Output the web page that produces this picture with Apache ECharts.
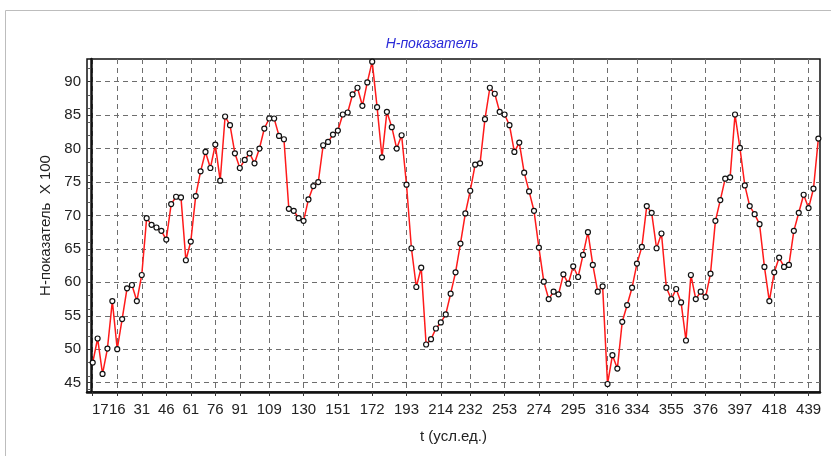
<!DOCTYPE html>
<html>
<head>
<meta charset="utf-8">
<script src="https://cdn.jsdelivr.net/npm/echarts@6/dist/echarts.min.js"></script>
<style>
  html, body { margin: 0; padding: 0; background: #fff; }
  #chart { width: 831px; height: 456px; }
</style>
</head>
<body>
<div id="chart"></div>
<script>
// время отсчётов (усл.ед.), шаг 3
const tValues = [
  1, 4, 7, 10, 13, 16, 19, 22, 25, 28, 31, 34, 37, 40, 43, 46, 49, 52, 55, 58,
  61, 64, 67, 70, 73, 76, 79, 82, 85, 88, 91, 94, 97, 100, 103, 106, 109, 112, 115, 118,
  121, 124, 127, 130, 133, 136, 139, 142, 145, 148, 151, 154, 157, 160, 163, 166, 169, 172, 175, 178,
  181, 184, 187, 190, 193, 196, 199, 202, 205, 208, 211, 214, 217, 220, 223, 226, 229, 232, 235, 238,
  241, 244, 247, 250, 253, 256, 259, 262, 265, 268, 271, 274, 277, 280, 283, 286, 289, 292, 295, 298,
  301, 304, 307, 310, 313, 316, 319, 322, 325, 328, 331, 334, 337, 340, 343, 346, 349, 352, 355, 358,
  361, 364, 367, 370, 373, 376, 379, 382, 385, 388, 391, 394, 397, 400, 403, 406, 409, 412, 415, 418,
  421, 424, 427, 430, 433, 436, 439, 442, 445
];

// Н-показатель x 100
const hValues = [
  48.0, 51.6, 46.3, 50.1, 57.2, 50.0, 54.5, 59.1, 59.6, 57.2, 61.1, 69.6, 68.6, 68.2, 67.7,
  66.4, 71.7, 72.8, 72.7, 63.3, 66.1, 72.9, 76.6, 79.5, 77.1, 80.6, 75.2, 84.8, 83.5, 79.3,
  77.1, 78.3, 79.3, 77.8, 80.0, 83.0, 84.5, 84.5, 81.9, 81.4, 71.0, 70.7, 69.6, 69.2, 72.4,
  74.4, 75.0, 80.5, 81.0, 82.1, 82.7, 85.1, 85.4, 88.1, 89.1, 86.4, 89.9, 93.0, 86.2, 78.7, 85.5,
  83.2, 80.0, 82.0, 74.6, 65.1, 59.3, 62.2, 50.7, 51.5, 53.1, 54.0, 55.2, 58.3, 61.5, 65.8,
  70.3, 73.7, 77.6, 77.8, 84.4, 89.1, 88.2, 85.5, 85.1, 83.5, 79.5, 80.9, 76.4, 73.6, 70.7,
  65.2, 60.1, 57.5, 58.6, 58.2, 61.2, 59.8, 62.4, 60.8, 64.1, 67.5, 62.6, 58.6, 59.4, 44.8,
  49.1, 47.1, 54.1, 56.6, 59.2, 62.8, 65.3, 71.4, 70.4, 65.1, 67.3, 59.2, 57.5, 59.0, 57.0, 51.3,
  61.1, 57.5, 58.6, 57.8, 61.3, 69.2, 72.3, 75.5, 75.7, 85.1, 80.1, 74.5, 71.4, 70.2, 68.7,
  62.3, 57.2, 61.5, 63.7, 62.3, 62.6, 67.7, 70.4, 73.1, 71.1, 74.0, 81.5
];

const xTicks = [1, 16, 31, 46, 61, 76, 91, 109, 130, 151, 172, 193, 214, 232, 253, 274, 295, 316, 334, 355, 376, 397, 418, 439];
const xTickLabels = ['17', '16', '31', '46', '61', '76', '91', '109', '130', '151', '172', '193', '214', '232', '253', '274', '295', '316', '334', '355', '376', '397', '418', '439'];
const yTicks = [45, 50, 55, 60, 65, 70, 75, 80, 85, 90];

const chart = echarts.init(document.getElementById('chart'));

const gridLine = { show: true, lineStyle: { color: '#6e6e6e', type: [5, 4], width: 1 } };
const font = 'Liberation Sans, Arial, sans-serif';

chart.setOption({
  animation: false,
  backgroundColor: '#fff',
  title: {
    text: 'Н-показатель',
    left: 427,
    top: 32,
    textAlign: 'center',
    textStyle: { color: '#2a2ad8', fontStyle: 'italic', fontWeight: 'normal', fontSize: 14, fontFamily: font }
  },
  graphic: [{
    type: 'rect',
    shape: { x: 5.5, y: 10.5, width: 840, height: 460 },
    style: { fill: 'none', stroke: '#bdbdbd', lineWidth: 1 },
    silent: true
  }],
  grid: {
    left: 87, right: 11, top: 59, bottom: 64,
    show: true, borderColor: '#111', borderWidth: 1.5, backgroundColor: 'transparent'
  },
  xAxis: {
    type: 'value',
    min: -2.5,
    max: 446,
    name: 't (усл.ед.)',
    nameLocation: 'middle',
    nameGap: 37,
    nameTextStyle: { color: '#222', fontSize: 15, fontFamily: font },
    axisLine: { show: true, lineStyle: { color: '#111', width: 2.5 } },
    axisTick: { show: true, customValues: xTicks, length: 4, lineStyle: { color: '#333' } },
    axisLabel: {
      customValues: xTicks,
      margin: 10,
      color: '#222',
      fontSize: 15,
      fontFamily: font,
      formatter: function (v) {
        const i = xTicks.indexOf(v);
        if (i === 0) return '{s|' + xTickLabels[0] + '}';
        return i >= 0 ? xTickLabels[i] : '';
      },
      rich: { s: { padding: [0, 0, 0, 15], color: '#222', fontSize: 15, fontFamily: font } }
    },
    splitLine: gridLine
  },
  yAxis: {
    type: 'value',
    min: 43.6,
    max: 93.4,
    name: 'Н-показатель  X 100',
    nameLocation: 'middle',
    nameGap: 34,
    nameTextStyle: { color: '#222', fontSize: 15, fontFamily: font },
    axisLine: { show: true, lineStyle: { color: '#111', width: 2.5 } },
    axisTick: { show: true, customValues: yTicks, length: 4, lineStyle: { color: '#333' } },
    minorTick: { show: true, splitNumber: 5, length: 3, lineStyle: { color: '#555' } },
    axisLabel: {
      customValues: yTicks,
      margin: 6,
      color: '#222',
      fontSize: 15,
      fontFamily: font
    },
    splitLine: gridLine
  },
  series: [{
    type: 'line',
    data: tValues.map((t, i) => [t, hValues[i]]),
    symbol: 'circle',
    symbolSize: 5,
    showAllSymbol: true,
    lineStyle: { color: '#ff1a1a', width: 1.5 },
    itemStyle: { color: '#fff', borderColor: '#111', borderWidth: 1.2 },
    z: 3
  }]
});
</script>
</body>
</html>
